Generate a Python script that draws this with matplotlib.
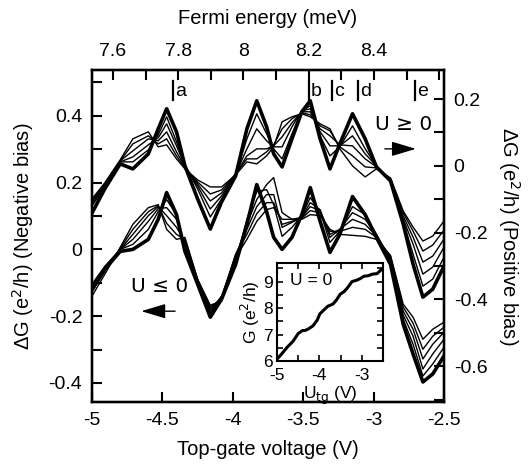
import numpy as np
import matplotlib
matplotlib.use("Agg")
import matplotlib.pyplot as plt

plt.rcParams['font.family'] = ['Liberation Sans', 'DejaVu Sans']

# top-gate voltage grid (V)
v = [-5.0, -4.91, -4.8, -4.71, -4.6, -4.53, -4.47, -4.4, -4.34, -4.25, -4.16,
     -4.08, -3.98, -3.9, -3.83, -3.76, -3.71, -3.65, -3.58, -3.51, -3.45, -3.38,
     -3.31, -3.24, -3.15, -3.06, -2.98, -2.88, -2.79, -2.72, -2.65, -2.58, -2.5]

# positive bias traces (right axis), first one is the bold trace
pos_0 = [-0.141, -0.069, 0.006, -0.009, 0.036, 0.111, 0.171, 0.102, 0.0, -0.099, -0.189,
         -0.108, -0.030, 0.111, 0.195, 0.117, 0.036, -0.003, 0.081, 0.162, 0.195, 0.081,
         -0.009, 0.066, 0.156, 0.081, -0.003, -0.045, -0.174, -0.294, -0.393, -0.369, -0.300]
pos_1 = [-0.120, -0.063, 0.012, 0.012, 0.048, 0.093, 0.147, 0.072, 0.003, -0.069, -0.153,
         -0.099, -0.027, 0.081, 0.156, 0.096, 0.051, 0.021, 0.096, 0.165, 0.180, 0.090,
         0.030, 0.057, 0.120, 0.051, 0.0, -0.048, -0.165, -0.264, -0.360, -0.339, -0.273]
pos_2 = [-0.114, -0.060, 0.012, 0.027, 0.063, 0.084, 0.126, 0.060, 0.0, -0.060, -0.129,
         -0.090, -0.024, 0.051, 0.111, 0.075, 0.057, 0.057, 0.117, 0.165, 0.171, 0.102,
         0.060, 0.060, 0.090, 0.036, 0.0, -0.045, -0.159, -0.234, -0.324, -0.303, -0.243]
pos_3 = [-0.108, -0.057, 0.015, 0.045, 0.081, 0.075, 0.102, 0.042, -0.003, -0.054, -0.105,
         -0.081, -0.024, 0.030, 0.051, 0.051, 0.060, 0.087, 0.129, 0.162, 0.162, 0.111,
         0.090, 0.063, 0.060, 0.021, -0.003, -0.042, -0.150, -0.213, -0.288, -0.270, -0.219]
pos_4 = [-0.102, -0.054, 0.015, 0.066, 0.090, 0.066, 0.081, 0.030, -0.006, -0.048, -0.084,
         -0.072, -0.024, 0.021, 0.021, 0.042, 0.063, 0.111, 0.141, 0.159, 0.153, 0.120,
         0.105, 0.057, 0.030, -0.003, -0.006, -0.039, -0.141, -0.195, -0.255, -0.237, -0.192]
pos_5 = [-0.099, -0.051, 0.018, 0.081, 0.102, 0.057, 0.063, 0.021, -0.009, -0.042, -0.063,
         -0.063, -0.027, 0.012, 0.006, 0.030, 0.057, 0.132, 0.147, 0.156, 0.147, 0.126,
         0.111, 0.051, 0.0, -0.033, -0.009, -0.036, -0.135, -0.183, -0.225, -0.210, -0.165]

# negative bias traces (left axis), first one is the bold trace
neg_0 = [-0.119, -0.060, -0.006, 0.0, 0.030, 0.090, 0.170, 0.104, -0.006, -0.104, -0.203,
         -0.149, -0.045, 0.075, 0.194, 0.113, 0.036, 0.0, 0.036, 0.104, 0.185, 0.084,
         -0.009, 0.045, 0.158, 0.104, 0.036, -0.045, -0.224, -0.313, -0.397, -0.373, -0.319]
neg_1 = [-0.110, -0.054, 0.0, 0.015, 0.060, 0.113, 0.149, 0.104, 0.006, -0.099, -0.191,
         -0.143, -0.036, 0.090, 0.173, 0.179, 0.134, 0.039, 0.066, 0.101, 0.155, 0.113,
         0.021, 0.054, 0.128, 0.104, 0.045, -0.036, -0.209, -0.284, -0.379, -0.343, -0.293]
neg_2 = [-0.104, -0.051, 0.0, 0.030, 0.084, 0.122, 0.125, 0.090, 0.015, -0.093, -0.185,
         -0.140, -0.024, 0.075, 0.149, 0.194, 0.215, 0.110, 0.090, 0.096, 0.140, 0.119,
         0.036, 0.060, 0.110, 0.090, 0.045, -0.030, -0.197, -0.260, -0.358, -0.313, -0.269]
neg_3 = [-0.113, -0.057, 0.0, 0.045, 0.101, 0.128, 0.101, 0.066, 0.024, -0.090, -0.179,
         -0.143, -0.015, 0.060, 0.128, 0.164, 0.164, 0.066, 0.081, 0.096, 0.128, 0.116,
         0.045, 0.060, 0.090, 0.075, 0.039, -0.024, -0.185, -0.239, -0.328, -0.284, -0.248]
neg_4 = [-0.128, -0.066, 0.003, 0.060, 0.113, 0.131, 0.078, 0.045, 0.030, -0.090, -0.173,
         -0.149, -0.015, 0.045, 0.107, 0.140, 0.140, 0.075, 0.084, 0.093, 0.116, 0.110,
         0.054, 0.054, 0.066, 0.060, 0.036, -0.021, -0.173, -0.221, -0.299, -0.260, -0.233]
neg_5 = [-0.140, -0.075, 0.006, 0.075, 0.125, 0.134, 0.060, 0.030, 0.036, -0.090, -0.167,
         -0.155, -0.024, 0.030, 0.084, 0.119, 0.125, 0.090, 0.090, 0.090, 0.104, 0.101,
         0.060, 0.045, 0.042, 0.039, 0.030, -0.018, -0.164, -0.203, -0.269, -0.239, -0.218]

# peak labels on the top-gate axis
peak_names = ['a', 'b', 'c', 'd', 'e']
peak_v = [-4.425, -3.459, -3.295, -3.111, -2.706]

# inset: U = 0 conductance
ins_v = [-5.0, -4.9, -4.76, -4.62, -4.5, -4.4, -4.34, -4.25, -4.15, -4.05, -3.99,
         -3.9, -3.8, -3.68, -3.6, -3.51, -3.42, -3.35, -3.23, -3.12, -3.04, -2.95,
         -2.85, -2.75, -2.64, -2.52]
ins_g = [6.07, 6.25, 6.52, 6.75, 7.04, 7.15, 7.15, 7.22, 7.33, 7.55, 7.78,
         7.92, 8.07, 8.15, 8.3, 8.52, 8.62, 8.74, 9.0, 9.05, 9.11, 9.2,
         9.22, 9.28, 9.30, 9.48]

# Fermi energy scale of the top axis (meV)
e_lim = (7.536, 8.615)

fig = plt.figure(figsize=(5.31, 4.66), dpi=100)
ax = fig.add_axes([0.1733, 0.1373, 0.6629, 0.7124])
axr = ax.twinx()
axt = ax.twiny()

neg = [neg_0, neg_1, neg_2, neg_3, neg_4, neg_5]
pos = [pos_0, pos_1, pos_2, pos_3, pos_4, pos_5]
for i in range(5, -1, -1):
    lw = 2.6 if i == 0 else 1.0
    ax.plot(v, neg[i], color='black', lw=lw, solid_joinstyle='round')
    axr.plot(v, pos[i], color='black', lw=lw, solid_joinstyle='round')

ax.set_xlim(-5, -2.5)
ax.set_ylim(-0.457, 0.537)
axr.set_ylim(-0.707, 0.287)
axt.set_xlim(*e_lim)

ax.set_xticks([-5, -4.5, -4, -3.5, -3, -2.5])
ax.set_xticklabels(['-5', '-4.5', '-4', '-3.5', '-3', '-2.5'])
ax.set_yticks(np.arange(-0.4, 0.51, 0.1))
ax.set_yticklabels(['-0.4', '', '-0.2', '', '0', '', '0.2', '', '0.4', ''])
axr.set_yticks(np.arange(-0.7, 0.25, 0.1))
axr.set_yticklabels(['', '-0.6', '', '-0.4', '', '-0.2', '', '0', '', '0.2'])
axt.set_xticks(np.arange(7.6, 8.65, 0.1))
axt.set_xticklabels(['7.6', '', '7.8', '', '8', '', '8.2', '', '8.4', '', ''])

fs_tick = 14
fs_lab = 14.5
for a in (ax, axr, axt):
    for s in a.spines.values():
        s.set_linewidth(1.6)
ax.tick_params(axis='both', direction='in', length=7, width=1.5, labelsize=fs_tick, pad=7)
axr.tick_params(axis='y', direction='in', length=7, width=1.5, labelsize=fs_tick, pad=7)
axt.tick_params(axis='x', direction='in', length=7, width=1.5, labelsize=fs_tick, pad=7)

ax.set_xlabel('Top-gate voltage (V)', fontsize=fs_lab, labelpad=8)
axt.set_xlabel('Fermi energy (meV)', fontsize=fs_lab, labelpad=14)
ax.set_ylabel('ΔG (e$^2$/h) (Negative bias)', fontsize=fs_lab, labelpad=9)
axr.set_ylabel('ΔG (e$^2$/h) (Positive bias)', fontsize=fs_lab, rotation=270, labelpad=25)

# peak markers
for name, pv in zip(peak_names, peak_v):
    ax.plot([pv, pv], [0.446, 0.503], color='black', lw=1.6)
    ax.text(pv + 0.015, 0.472, name, fontsize=14, ha='left', va='center')

# bias direction annotations
ax.text(-4.72, -0.112, 'U ≤ 0', fontsize=14.5, ha='left', va='center',
        family=['DejaVu Sans'])
ax.annotate('', xy=(-4.67, -0.185), xytext=(-4.39, -0.185),
            arrowprops=dict(arrowstyle='-|>,head_length=1.5,head_width=0.45',
                            color='black', lw=1.0))
axr.text(-2.99, 0.125, 'U ≥ 0', fontsize=14.5, ha='left', va='center',
         family=['DejaVu Sans'])
axr.annotate('', xy=(-2.68, 0.051), xytext=(-2.94, 0.051),
             arrowprops=dict(arrowstyle='-|>,head_length=1.5,head_width=0.45',
                             color='black', lw=1.0))

# inset
axi = fig.add_axes([0.5217, 0.2253, 0.1996, 0.2103])
axi.plot(ins_v, ins_g, color='black', lw=2.2)
axi.set_xlim(-5, -2.5)
axi.set_ylim(6, 9.7)
axi.set_xticks(np.arange(-5, -2.6, 0.5))
axi.set_xticklabels(['-5', '', '-4', '', '-3'])
axi.set_yticks(np.arange(6, 9.6, 0.5))
axi.set_yticklabels(['6', '', '7', '', '8', '', '9', ''])
for s in axi.spines.values():
    s.set_linewidth(1.5)
axi.tick_params(direction='in', length=4, width=1.2, labelsize=12.5, pad=3,
                top=True, right=True)
axi.tick_params(axis='x', pad=5)
axi.set_xlabel('U$_{\\mathrm{tg}}$ (V)', fontsize=12.5, labelpad=1)
axi.set_ylabel('G (e$^2$/h)', fontsize=12.5, labelpad=1)
axi.text(0.12, 0.82, 'U = 0', transform=axi.transAxes, fontsize=12.5,
         ha='left', va='center')

fig.savefig('out.png', dpi=100)
